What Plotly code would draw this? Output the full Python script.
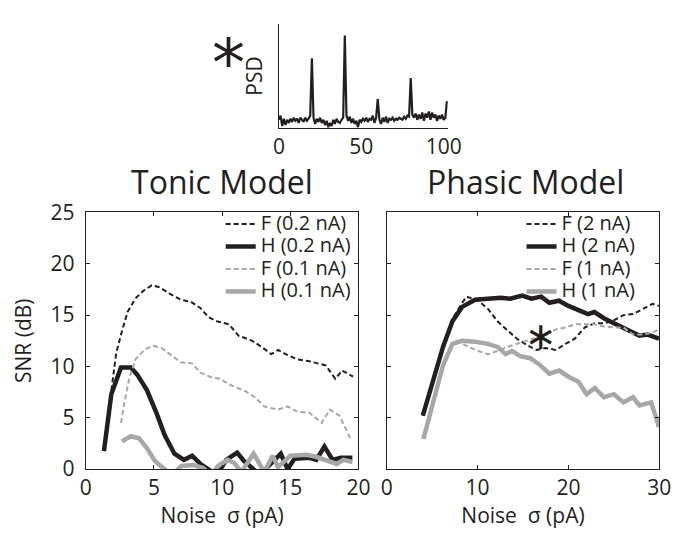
import plotly.graph_objects as go

# ---------------- data ----------------
# Tonic model
tonic_F02_x = [1.8, 2.23, 2.58, 3.06, 3.65, 4.25, 4.84, 5.43, 6.14, 6.97, 7.7, 8.4, 9.0, 9.6, 10.5, 11.2, 12.2, 12.9, 13.6, 14.1, 14.8, 15.5, 16.4, 17.6, 18.3, 18.8, 19.6]
tonic_F02_y = [6.9, 11.3, 13.1, 15.3, 16.65, 17.4, 17.9, 17.7, 17.1, 16.5, 16.3, 15.7, 14.8, 14.4, 14.1, 13.0, 12.5, 11.9, 11.2, 11.6, 11.1, 10.7, 10.5, 10.1, 8.8, 9.6, 9.0]

tonic_H02_x = [1.33, 1.87, 2.58, 3.3, 3.77, 4.48, 5.2, 5.79, 6.5, 7.2, 7.8, 8.5, 8.97, 9.6, 10.3, 11.1, 11.6, 12.2, 12.8, 13.4, 14.3, 14.8, 15.3, 16.4, 16.9, 17.5, 18.1, 18.7, 19.55]
tonic_H02_y = [1.75, 7.3, 9.9, 9.9, 9.2, 7.7, 5.4, 3.3, 1.5, 0.9, 1.3, 0.4, 0.0, -0.6, 0.9, 1.6, 0.8, 0.1, -0.6, 0.3, 1.5, 0.0, 1.0, 1.1, 0.9, 2.2, 0.9, 1.1, 1.1]

tonic_F01_x = [2.58, 2.82, 3.18, 3.65, 4.36, 4.96, 5.55, 6.26, 6.97, 7.8, 8.4, 9.1, 9.8, 10.75, 11.7, 12.4, 13.1, 14.07, 14.8, 15.5, 16.4, 17.3, 17.9, 18.6, 19.4]
tonic_F01_y = [4.5, 6.4, 8.8, 10.7, 11.7, 12.0, 11.8, 11.1, 10.4, 10.3, 9.4, 9.0, 8.8, 8.1, 7.6, 7.0, 6.1, 5.8, 6.1, 5.6, 5.5, 4.5, 5.8, 5.2, 3.0]

tonic_H01_x = [2.65, 3.3, 3.9, 4.48, 5.07, 5.65, 6.3, 7.0, 7.9, 8.6, 9.2, 9.7, 10.4, 10.9, 11.4, 12.3, 12.8, 13.1, 13.7, 14.1, 15.0, 16.2, 16.9, 17.65, 18.4, 18.9, 19.55]
tonic_H01_y = [2.7, 3.2, 3.0, 2.05, 0.8, 0.1, -0.6, 0.3, 0.4, 0.1, -0.6, 0.3, 0.9, 0.6, -0.3, 1.5, 0.4, -0.3, 1.3, 0.2, 1.3, 1.4, 1.2, 0.9, 0.5, 0.9, 0.7]

# Phasic model
phasic_F2_x = [3.98, 5.1, 6.2, 7.24, 8.3, 8.8, 10.08, 11.15, 12.2, 13.3, 14.34, 15.4, 16.5, 17.5, 18.6, 19.67, 20.7, 21.8, 22.9, 23.9, 25.0, 26.05, 27.1, 28.2, 29.25, 29.96]
phasic_F2_y = [5.2, 8.6, 12.0, 14.6, 16.2, 16.8, 16.4, 15.6, 14.4, 13.5, 12.7, 12.1, 11.6, 11.8, 11.6, 12.2, 12.7, 13.8, 14.2, 14.2, 14.5, 15.0, 15.1, 15.6, 16.1, 15.9]

phasic_H2_x = [3.98, 5.1, 6.2, 7.24, 8.3, 9.73, 11.15, 12.57, 13.6, 14.9, 15.94, 17.0, 17.9, 18.96, 20.0, 21.1, 22.15, 22.86, 23.9, 25.0, 26.06, 27.1, 27.8, 28.7, 29.96]
phasic_H2_y = [5.2, 8.5, 11.9, 14.4, 15.8, 16.5, 16.6, 16.7, 16.6, 16.9, 16.6, 16.8, 16.2, 16.4, 15.9, 15.5, 15.1, 15.3, 14.7, 14.2, 13.8, 13.3, 13.0, 13.1, 12.7]

phasic_F1_x = [4.05, 5.1, 6.2, 7.24, 7.77, 9.0, 10.1, 11.15, 12.2, 13.3, 14.34, 15.4, 16.5, 17.5, 18.6, 19.7, 20.7, 21.8, 22.9, 23.9, 25.0, 26.05, 27.1, 28.2, 29.25, 29.96]
phasic_F1_y = [2.95, 6.4, 10.1, 12.2, 12.5, 11.9, 11.5, 11.2, 11.5, 11.9, 12.2, 12.5, 12.8, 13.1, 13.6, 13.8, 14.1, 14.1, 14.1, 13.9, 13.8, 13.8, 13.1, 13.1, 13.3, 13.6]

phasic_H1_x = [4.05, 5.1, 6.2, 7.24, 8.3, 9.73, 11.15, 12.2, 13.1, 13.8, 14.7, 15.8, 16.8, 17.9, 19.0, 20.0, 21.1, 22.0, 22.9, 23.9, 25.0, 26.06, 27.1, 27.8, 29.1, 29.96]
phasic_H1_y = [2.95, 6.4, 10.1, 12.2, 12.5, 12.4, 12.2, 11.9, 11.2, 11.5, 11.0, 10.8, 10.2, 9.3, 9.6, 9.0, 8.5, 7.3, 7.9, 7.0, 7.3, 6.5, 7.0, 6.2, 6.5, 4.1]

# Inset power spectral density (arbitrary units), frequency 0..102
psd_f = list(range(0, 103))
psd_v = [0.08, 0.12, 0.02, 0.09, 0.03, 0.08, 0.05, 0.09, 0.06, 0.10,
         0.07, 0.09, 0.05, 0.10, 0.08, 0.06, 0.10, 0.07, 0.09, 0.12,
         0.67, 0.10, 0.04, 0.09, 0.06, 0.10, 0.05, 0.08, 0.03, 0.07,
         0.01, 0.05, 0.02, 0.08, 0.04, 0.09, 0.06, 0.05, 0.08, 0.10,
         0.89, 0.12, 0.07, 0.11, 0.05, 0.09, 0.04, 0.07, 0.01, 0.08,
         0.06, 0.09, 0.07, 0.10, 0.06, 0.09, 0.08, 0.12, 0.05, 0.10,
         0.28, 0.08, 0.04, 0.10, 0.06, 0.11, 0.05, 0.09, 0.08, 0.10,
         0.07, 0.09, 0.08, 0.10, 0.09, 0.08, 0.11, 0.09, 0.12, 0.11,
         0.48, 0.13, 0.10, 0.14, 0.08, 0.13, 0.09, 0.15, 0.07, 0.14,
         0.10, 0.16, 0.08, 0.15, 0.10, 0.13, 0.07, 0.12, 0.09, 0.13,
         0.08, 0.10, 0.26]

tonic_ticks_x = [0, 5, 10, 15, 20]
phasic_ticks_x = [0, 10, 20, 30]
snr_ticks = [0, 5, 10, 15, 20, 25]
psd_ticks_x = [0, 50, 100]

# ---------------- style ----------------
INK = "#231f20"
GRAY = "#a7a7a7"
FONT = "Open Sans"
FS = 21
LFS = 20
# The page keeps the browser's default 8px body margin, so the figure is
# sized to fit the 684x546 window exactly and positions are given in
# window pixels minus that offset.
OFF = 8
W, H = 684 - OFF, 546 - 2 * OFF

def px(x):
    return (x - OFF) / W

def py(y):
    return 1 - (y - OFF) / H

fig = go.Figure()

def add(x, y, name, color, width, dash, xa, ya, legend):
    fig.add_trace(go.Scatter(x=x, y=y, mode="lines",
                             name='<span style="font-size:%dpx">%s</span>' % (LFS, name),
                             line=dict(color=color, width=width, dash=dash),
                             xaxis=xa, yaxis=ya, legend=legend))

DASH = "5px,3px"
add(tonic_F02_x, tonic_F02_y, "F (0.2 nA)", INK, 2, DASH, "x", "y", "legend")
add(tonic_H02_x, tonic_H02_y, "H (0.2 nA)", INK, 4.5, "solid", "x", "y", "legend")
add(tonic_F01_x, tonic_F01_y, "F (0.1 nA)", GRAY, 2, DASH, "x", "y", "legend")
add(tonic_H01_x, tonic_H01_y, "H (0.1 nA)", GRAY, 4.5, "solid", "x", "y", "legend")

add(phasic_F2_x, phasic_F2_y, "F (2 nA)", INK, 2, DASH, "x2", "y2", "legend2")
add(phasic_H2_x, phasic_H2_y, "H (2 nA)", INK, 4.5, "solid", "x2", "y2", "legend2")
add(phasic_F1_x, phasic_F1_y, "F (1 nA)", GRAY, 2, DASH, "x2", "y2", "legend2")
add(phasic_H1_x, phasic_H1_y, "H (1 nA)", GRAY, 4.5, "solid", "x2", "y2", "legend2")

fig.add_trace(go.Scatter(x=psd_f, y=psd_v, mode="lines", showlegend=False,
                         line=dict(color=INK, width=2.2), xaxis="x3", yaxis="y3"))

tickfont = dict(family=FONT, size=FS, color=INK)
titlefont = dict(family=FONT, size=FS, color=INK)
common = dict(showgrid=False, zeroline=False, showline=True, linecolor=INK,
              linewidth=1, mirror="ticks", ticks="inside", ticklen=4,
              tickcolor=INK, tickwidth=1, tickfont=tickfont)

pan_top, pan_bot = py(208), py(479)
legfont = dict(family=FONT, size=15, color=INK)

fig.update_layout(
    width=W, height=H,
    margin=dict(l=0, r=0, t=0, b=0),
    paper_bgcolor="white", plot_bgcolor="white",
    font=dict(family=FONT, color=INK),
    xaxis=dict(domain=[px(82), px(363)], range=[0, 20], tickvals=tonic_ticks_x,
               title=dict(text="Noise  σ (pA)", font=titlefont, standoff=6),
               anchor="y", **common),
    yaxis=dict(domain=[pan_bot, pan_top], range=[0, 25], tickvals=snr_ticks,
               ticklabelstandoff=6,
               title=dict(text="SNR (dB)", font=titlefont, standoff=13),
               anchor="x", **common),
    xaxis2=dict(domain=[px(392), px(673)], range=[0, 30], tickvals=phasic_ticks_x,
                title=dict(text="Noise  σ (pA)", font=titlefont, standoff=6),
                anchor="y2", **common),
    yaxis2=dict(domain=[pan_bot, pan_top], range=[0, 25], tickvals=snr_ticks,
                showticklabels=False, anchor="x2", **common),
    xaxis3=dict(domain=[px(281), px(455)], range=[0, 102.5], tickvals=psd_ticks_x,
                showgrid=False, zeroline=False, showline=True, linecolor=INK, linewidth=1,
                ticks="", tickfont=tickfont, anchor="y3"),
    yaxis3=dict(domain=[py(119), py(9)], range=[0, 1.0], showgrid=False, zeroline=False,
                showline=True, linecolor=INK, linewidth=1, ticks="", showticklabels=False,
                title=dict(text="PSD", font=titlefont, standoff=9),
                anchor="x3"),
    legend=dict(x=px(221), xanchor="left", y=py(203), yanchor="top",
                bgcolor="rgba(0,0,0,0)", font=legfont,
                itemwidth=30, tracegroupgap=0),
    legend2=dict(x=px(531), xanchor="left", y=py(203), yanchor="top",
                 bgcolor="rgba(0,0,0,0)", font=legfont,
                 itemwidth=30, tracegroupgap=0),
    annotations=[
        dict(text="Tonic Model", x=px(222), y=py(175), xref="paper", yref="paper",
             showarrow=False, xanchor="center", yanchor="middle",
             font=dict(family=FONT, size=32, color=INK)),
        dict(text="Phasic Model", x=px(535), y=py(175), xref="paper", yref="paper",
             showarrow=False, xanchor="center", yanchor="middle",
             font=dict(family=FONT, size=32, color=INK)),
        dict(text="*", x=px(229), y=1.0, xref="paper", yref="paper",
             showarrow=False, xanchor="center", yanchor="top",
             font=dict(family="DejaVu Sans", size=66, color=INK)),
        dict(text="∗", x=17.0, y=13.0, xref="x2", yref="y2",
             showarrow=False, xanchor="center", yanchor="middle",
             font=dict(family="DejaVu Sans", size=38, color=INK)),
    ],
)

fig.write_html("out.html", config={"displayModeBar": False})
